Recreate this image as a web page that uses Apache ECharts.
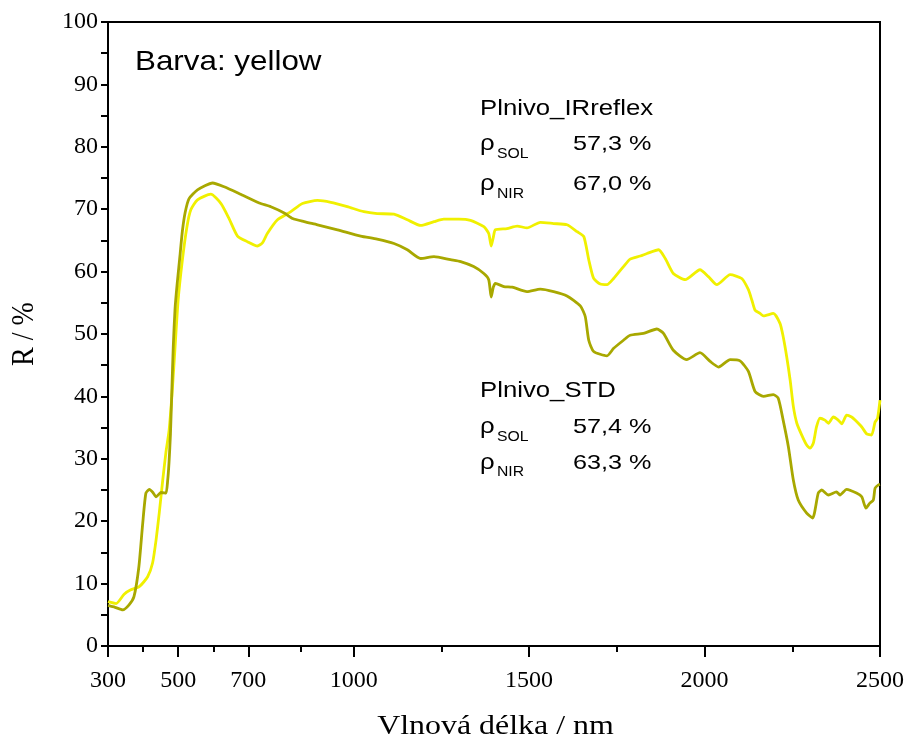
<!DOCTYPE html>
<html>
<head>
<meta charset="utf-8">
<script src="https://cdn.jsdelivr.net/npm/echarts@6/dist/echarts.min.js"></script>
<style>html,body{margin:0;padding:0;background:#fff}#c{width:909px;height:742px}</style>
</head>
<body>
<div id="c"></div>
<script>
// ---- data ----
var stdWavelengths = [300,320,342,360,374,388,399,408,418,428,437,451,465,470,474,478,482,486,491,497,505,512,520,531,555,598,631,678,731,764,802,826,859,897,954,1020,1067,1115,1153,1191,1229,1276,1305,1342,1371,1385,1392,1398,1404,1428,1452,1494,1532,1570,1608,1646,1660,1670,1684,1722,1741,1769,1788,1826,1864,1883,1911,1949,1987,2016,2040,2073,2101,2125,2144,2168,2196,2210,2224,2239,2253,2267,2291,2308,2324,2334,2353,2376,2386,2405,2433,2448,2460,2471,2481,2486,2495,2500];
var stdValues = [6.5,6.2,5.8,6.6,7.9,12.7,19.7,24.5,25.1,24.6,23.9,24.6,24.5,26.5,29.5,34.0,41.0,48.0,54.0,58.0,62.5,66.5,69.5,71.7,73.1,74.2,73.6,72.4,71.0,70.4,69.4,68.5,68.0,67.5,66.7,65.7,65.2,64.5,63.5,62.1,62.4,61.9,61.6,60.8,59.7,58.7,55.9,57.5,58.1,57.6,57.5,56.8,57.2,56.8,56.1,54.5,52.8,49.0,47.2,46.5,47.7,49.0,49.8,50.1,50.8,50.1,47.4,45.9,47.0,45.6,44.7,45.9,45.7,44.0,40.8,40.0,40.3,39.7,36.2,31.9,26.6,23.4,21.3,20.5,24.5,25.0,24.2,24.7,24.2,25.1,24.5,23.9,22.1,22.9,23.4,25.3,25.8,25.9];

var irWavelengths = [300,323,346,365,389,413,427,437,446,456,465,474,482,489,500,512,525,536,555,593,622,645,669,697,726,740,754,783,821,854,897,935,982,1029,1067,1115,1153,1191,1229,1257,1300,1333,1371,1385,1392,1398,1404,1437,1466,1494,1532,1570,1608,1637,1656,1670,1684,1703,1722,1741,1769,1788,1817,1836,1869,1888,1911,1945,1987,2011,2035,2073,2106,2125,2135,2144,2158,2168,2196,2215,2224,2234,2244,2253,2263,2277,2291,2301,2310,2319,2329,2343,2353,2367,2381,2391,2405,2419,2429,2448,2462,2476,2486,2493,2500];
var irValues = [7.1,6.8,8.3,9.0,9.5,11.1,13.3,17.0,21.3,26.6,31.0,34.5,40.0,46.0,55.5,61.9,67.2,69.9,71.5,72.4,70.9,68.5,65.7,64.8,64.1,64.6,66.1,68.3,69.6,70.9,71.4,71.1,70.4,69.6,69.3,69.2,68.3,67.4,68.0,68.4,68.4,68.2,67.2,66.1,64.1,65.5,66.7,66.9,67.3,67.0,67.9,67.7,67.5,66.4,65.6,61.9,58.9,58.0,57.9,58.9,60.8,62.0,62.5,62.9,63.5,62.1,59.7,58.7,60.3,59.2,57.9,59.5,58.9,57.1,55.4,53.8,53.3,52.9,53.3,51.7,49.6,46.4,42.6,38.4,35.7,33.8,32.2,31.7,32.5,35.1,36.5,36.2,35.7,36.7,36.2,35.6,37.0,36.7,36.2,35.1,34.0,33.8,35.9,36.5,39.4];

var xMajorTicks = [300,500,700,1000,1500,2000,2500];
var xMinorTicks = [400,600,850,1250,1750,2250];

var titleText = 'Barva: yellow';
var seriesNames = ['Plnivo_IRreflex', 'Plnivo_STD'];
var solValues = ['57,3 %', '57,4 %'];
var nirValues = ['67,0 %', '63,3 %'];
var xName = 'Vlnová délka / nm';
var yName = 'R / %';

function zip(xs, ys){ return xs.map(function(x,i){ return [x, ys[i]]; }); }

var SANS = 'Liberation Sans, Arial, sans-serif';
var SERIF = 'Liberation Serif, Times New Roman, serif';

function txt(text, x, y, size, sx, family){
  return {type:'text', x:x, y:y, scaleX:sx||1, z:100,
    style:{text:text, fontSize:size, fontFamily:family||SANS, fill:'#000', textAlign:'left', textVerticalAlign:'middle'}};
}

function block(name, y0, ySol, yNir, sol, nir){
  return [
    txt(name, 480, y0, 22, 1.17),
    txt('ρ', 480, ySol, 22, 1.17),
    txt('SOL', 497, ySol + 9.5, 15, 1.05),
    txt(sol, 573, ySol, 21, 1.2),
    txt('ρ', 480, yNir, 22, 1.17),
    txt('NIR', 497, yNir + 9.5, 15, 1.05),
    txt(nir, 573, yNir, 21, 1.2)
  ];
}

var graphics = [txt(titleText, 135, 62.5, 28, 1.12)]
  .concat(block(seriesNames[0], 108.7, 144.2, 184.2, solValues[0], nirValues[0]))
  .concat(block(seriesNames[1], 390.5, 427, 462.8, solValues[1], nirValues[1]))
  .concat([
    {type:'text', x:495.5, y:727, scaleX:1.14, z:100,
     style:{text:xName, fontSize:28, fontFamily:SERIF, fill:'#000', textAlign:'center', textVerticalAlign:'middle'}},
    {type:'text', x:25, y:334, rotation:Math.PI/2, scaleY:1.14, z:100,
     style:{text:yName, fontSize:28, fontFamily:SERIF, fill:'#000', textAlign:'center', textVerticalAlign:'middle'}}
  ]);

var chart = echarts.init(document.getElementById('c'), null, {renderer:'canvas'});
chart.setOption({
  animation:false,
  backgroundColor:'#fff',
  grid:{left:108, right:29, top:22, bottom:96, show:true, borderColor:'#000', borderWidth:2, backgroundColor:'transparent'},
  xAxis:[{
    type:'value', min:300, max:2500, position:'bottom',
    axisLine:{show:true, onZero:false, lineStyle:{color:'#000', width:2}},
    axisTick:{show:true, inside:false, length:11, customValues:xMajorTicks, lineStyle:{color:'#000', width:2}},
    axisLabel:{show:true, customValues:xMajorTicks, fontFamily:SERIF, fontSize:24, color:'#000', margin:23,
      formatter:function(v){ return String(v); }},
    splitLine:{show:false}
  },{
    type:'value', min:300, max:2500, position:'bottom', gridIndex:0,
    axisLine:{show:false},
    axisTick:{show:true, inside:false, length:6, customValues:xMinorTicks, lineStyle:{color:'#000', width:2}},
    axisLabel:{show:false},
    splitLine:{show:false}
  }],
  yAxis:{
    type:'value', min:0, max:100, interval:5,
    axisLine:{show:true, onZero:false, lineStyle:{color:'#000', width:2}},
    axisTick:{show:true, inside:false, length:7, lineStyle:{color:'#000', width:2}},
    axisLabel:{fontFamily:SERIF, fontSize:24, color:'#000', margin:10,
      formatter:function(v){ return v % 10 === 0 ? String(v) : ''; }},
    splitLine:{show:false}
  },
  graphic:graphics,
  series:[{
    name:seriesNames[0], type:'line', xAxisIndex:0, data:zip(irWavelengths, irValues),
    showSymbol:false, smooth:0.2, lineStyle:{color:'#f0f000', width:2.8}, itemStyle:{color:'#f0f000'}
  },{
    name:seriesNames[1], type:'line', xAxisIndex:0, data:zip(stdWavelengths, stdValues),
    showSymbol:false, smooth:0.2, lineStyle:{color:'#a8a800', width:2.8}, itemStyle:{color:'#a8a800'}
  }]
});
</script>
</body>
</html>
